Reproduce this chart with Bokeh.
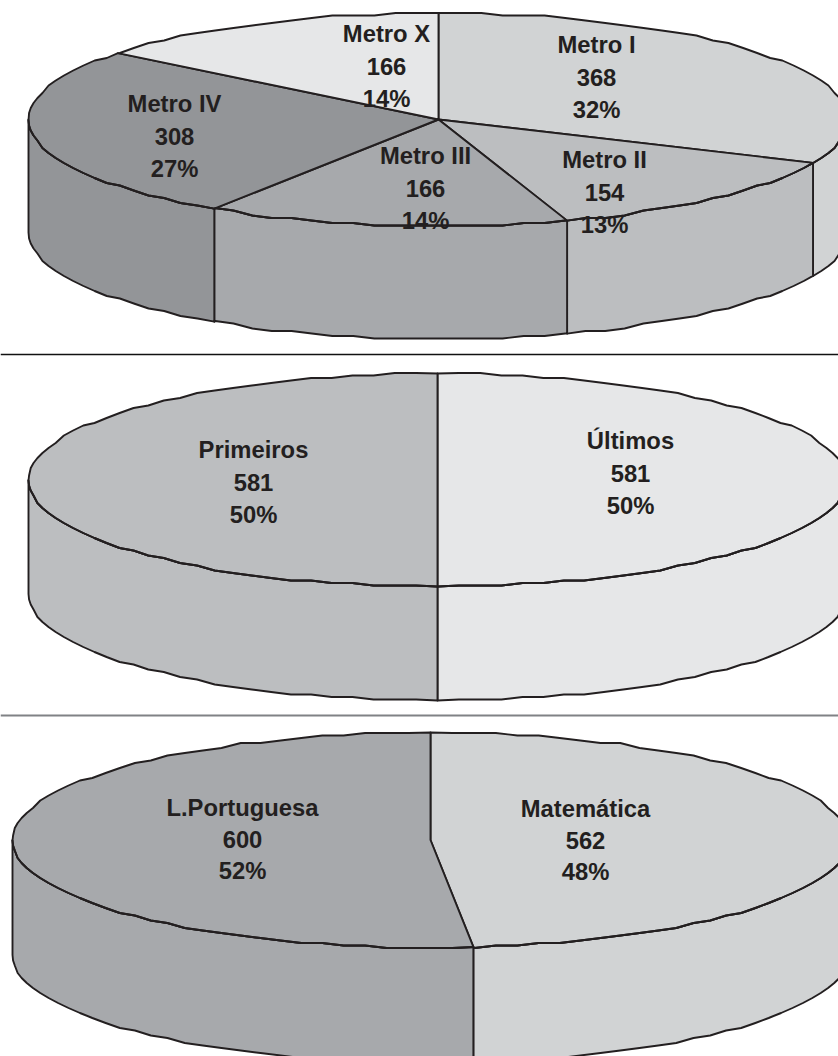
from math import sin, cos, radians, ceil, floor

from bokeh.core.properties import value
from bokeh.embed import file_html
from bokeh.models import Range1d
from bokeh.plotting import figure
from bokeh.resources import INLINE

# Enrolment counts per group, one list per pie, clockwise from twelve o'clock
metro_names = ["Metro I", "Metro II", "Metro III", "Metro IV", "Metro X"]
metro_counts = [368, 154, 166, 308, 166]
metro_shares = ["32%", "13%", "14%", "27%", "14%"]
metro_fills = ["#D1D3D4", "#BCBEC0", "#A7A9AC", "#939598", "#E6E7E8"]

rank_names = ["Últimos", "Primeiros"]
rank_counts = [581, 581]
rank_shares = ["50%", "50%"]
rank_fills = ["#E6E7E8", "#BCBEC0"]

subject_names = ["Matemática", "L.Portuguesa"]
subject_counts = [562, 600]
subject_shares = ["48%", "52%"]
subject_fills = ["#D1D3D4", "#A7A9AC"]

INK = "#231F20"
WIDTH, HEIGHT = 838, 1056
FONT = value("Liberation Sans")
EDGE = 1.9
STEP = 3.0
SNAP = 2.5

p = figure(width=WIDTH, height=HEIGHT, output_backend="svg", toolbar_location=None,
           x_range=Range1d(0, WIDTH), y_range=Range1d(HEIGHT, 0),
           min_border=0, outline_line_color=None, background_fill_color="white",
           border_fill_color="white")
p.xaxis.visible = False
p.yaxis.visible = False
p.grid.visible = False


def rim(cx, cy, rx, ry, start, end):
    """Ellipse arc between two clock angles, faceted on a shared angle grid so
    that neighbouring faces trace exactly the same outline."""
    angles = [start]
    for k in range(ceil(start / STEP), floor(end / STEP) + 1):
        if start < k * STEP < end:
            angles.append(k * STEP)
    angles.append(end)
    xs, ys = [], []
    for i, deg in enumerate(angles):
        a = radians(deg)
        x = cx + rx * sin(a)
        y = cy - ry * cos(a)
        if 0 < i < len(angles) - 1:
            y = round(y / SNAP) * SNAP
        xs.append(x)
        ys.append(y)
    return xs, ys


def draw_pie(cx, cy, rx, ry, depth, counts, fills, names, shares, positions, spacing):
    total = sum(counts)
    edges = [0.0]
    for c in counts:
        edges.append(edges[-1] + 360.0 * c / total)

    # Side wall: only the front half of the disc shows
    for i, fill in enumerate(fills):
        a0, a1 = max(edges[i], 90.0), min(edges[i + 1], 270.0)
        if a0 >= a1:
            continue
        xs, ys = rim(cx, cy, rx, ry, a0, a1)
        px = xs + xs[::-1]
        py = [y + depth for y in ys] + ys[::-1]
        p.patch(px, py, fill_color=fill, line_color=INK, line_width=EDGE, line_join="round")

    # Top face
    for i, fill in enumerate(fills):
        xs, ys = rim(cx, cy, rx, ry, edges[i], edges[i + 1])
        p.patch([cx] + xs, [cy] + ys, fill_color=fill, line_color=INK, line_width=EDGE,
                line_join="round")

    # Three-line labels sit on the faces
    for (x, y), name, count, share in zip(positions, names, counts, shares):
        for k, line in enumerate([name, str(count), share]):
            p.text([x], [y + k * spacing], text=[line], text_font=FONT,
                   text_font_size="23.8px", text_font_style="bold", text_color=INK,
                   text_align="center", text_baseline="middle")

    # The front rim is stroked again so it stays above labels that reach it
    for i in range(len(edges) - 1):
        a0, a1 = max(edges[i], 90.0), min(edges[i + 1], 270.0)
        if a0 < a1:
            xs, ys = rim(cx, cy, rx, ry, a0, a1)
            p.line(xs, ys, line_color=INK, line_width=EDGE, line_join="round")


# First pie: transport lines
draw_pie(438, 119, 410, 106.5, 113, metro_counts, metro_fills, metro_names, metro_shares,
         [(596, 44), (604, 159), (425, 155), (174, 103), (386, 33)], 32.5)
p.line([0, WIDTH], [354, 354], line_color="#111111", line_width=1.6)

# Second pie: first and last in class
draw_pie(437, 479.5, 409, 106.5, 114, rank_counts, rank_fills, rank_names, rank_shares,
         [(630, 440), (253, 449)], 32.5)
p.line([0, WIDTH], [715, 715], line_color="#808285", line_width=2)

# Third pie: school subjects
draw_pie(430, 839.5, 418, 107.5, 115, subject_counts, subject_fills, subject_names,
         subject_shares, [(585, 808), (242, 807)], 31.5)

open("out.html", "w").write(file_html(p, INLINE))
